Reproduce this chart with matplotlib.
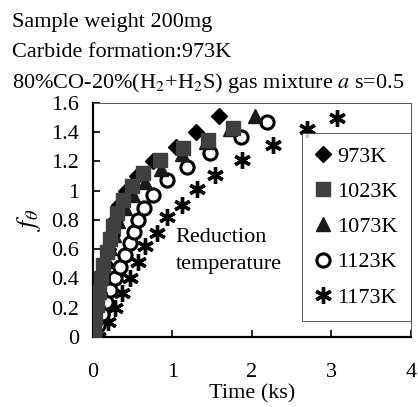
import matplotlib
matplotlib.use("Agg")
import matplotlib.pyplot as plt

plt.rcParams['font.family'] = ['Liberation Serif', 'DejaVu Serif']
plt.rcParams['mathtext.fontset'] = 'stix'

# Data (time in ks, f_theta)
t_973 = [0.0, 0.02, 0.05, 0.08, 0.11, 0.15, 0.19, 0.24, 0.28, 0.33, 0.42, 0.55, 0.76, 1.04, 1.29, 1.58]
f_973 = [0.02, 0.1, 0.2, 0.3, 0.4, 0.5, 0.6, 0.7, 0.8, 0.9, 1.0, 1.1, 1.2, 1.3, 1.4, 1.51]

t_1023 = [0.01, 0.03, 0.05, 0.07, 0.10, 0.13, 0.17, 0.21, 0.25, 0.30, 0.38, 0.49, 0.63, 0.84, 1.13, 1.45, 1.76]
f_1023 = [0.04, 0.13, 0.22, 0.31, 0.40, 0.49, 0.58, 0.67, 0.76, 0.85, 0.94, 1.03, 1.12, 1.21, 1.29, 1.35, 1.43]

t_1073 = [0.02, 0.04, 0.06, 0.09, 0.13, 0.17, 0.21, 0.26, 0.32, 0.40, 0.50, 0.65, 0.85, 1.12, 1.42, 1.72, 2.04]
f_1073 = [0.07, 0.16, 0.25, 0.34, 0.43, 0.52, 0.61, 0.70, 0.79, 0.88, 0.97, 1.06, 1.15, 1.25, 1.33, 1.42, 1.51]

t_1123 = [0.02, 0.06, 0.11, 0.16, 0.22, 0.28, 0.34, 0.40, 0.46, 0.51, 0.57, 0.64, 0.75, 0.93, 1.18, 1.47, 1.86, 2.19]
f_1123 = [0.0, 0.08, 0.16, 0.24, 0.32, 0.40, 0.48, 0.56, 0.64, 0.72, 0.80, 0.88, 0.97, 1.07, 1.16, 1.26, 1.37, 1.47]

t_1173 = [0.06, 0.19, 0.28, 0.36, 0.47, 0.56, 0.66, 0.80, 0.93, 1.12, 1.31, 1.53, 1.87, 2.27, 2.69, 3.07]
f_1173 = [0.0, 0.10, 0.20, 0.30, 0.40, 0.51, 0.62, 0.71, 0.82, 0.90, 1.01, 1.11, 1.21, 1.31, 1.42, 1.50]

labels = ['973K', '1023K', '1073K', '1123K', '1173K']
x_ticks = [0, 1, 2, 3, 4]
y_ticks = [0, 0.2, 0.4, 0.6, 0.8, 1, 1.2, 1.4, 1.6]
y_ticklabels = ['0', '0.2', '0.4', '0.6', '0.8', '1', '1.2', '1.4', '1.6']

FS = 16

fig = plt.figure(figsize=(4.18, 4.07), dpi=100)
ax = fig.add_axes([0.2225, 0.172, 0.7605, 0.575])

h5 = ax.plot(t_1173, f_1173, ls='none', marker=(6, 2, 0), ms=12, mew=2.4, color='black', label=labels[4], zorder=2)[0]
h4 = ax.plot(t_1123, f_1123, ls='none', marker='o', ms=9.5, mew=2.2, mfc='white', mec='black', label=labels[3], zorder=3)[0]
h3 = ax.plot(t_1073, f_1073, ls='none', marker='^', ms=10, color='#1a1a1a', label=labels[2], zorder=4)[0]
h1 = ax.plot(t_973, f_973, ls='none', marker='D', ms=8.5, color='black', label=labels[0], zorder=5)[0]
h2 = ax.plot(t_1023, f_1023, ls='none', marker='s', ms=9.5, color='#404040', label=labels[1], zorder=6)[0]

ax.set_xlim(0, 4)
ax.set_ylim(0, 1.6)
ax.set_xticks(x_ticks)
ax.set_yticks(y_ticks)
ax.set_yticklabels(y_ticklabels)
ax.tick_params(direction='in', length=5, width=1.2, labelsize=FS)
ax.tick_params(axis='x', pad=19)
ax.tick_params(axis='y', pad=10)
for s in ['left', 'bottom']:
    ax.spines[s].set_linewidth(1.6)
for s in ['top', 'right']:
    ax.spines[s].set_linewidth(0.7)
    ax.spines[s].set_color('#555555')

ax.set_xlabel('Time (ks)', fontsize=FS, labelpad=1)
ax.set_ylabel(r'$f_\theta$', fontsize=19, labelpad=6)

ax.text(0.26, 0.367, 'Reduction\ntemperature', transform=ax.transAxes,
        fontsize=FS, linespacing=1.55, va='center', ha='left')

leg = ax.legend(handles=[h1, h2, h3, h4, h5], loc='upper right',
                bbox_to_anchor=(1.0, 0.872), fontsize=FS, frameon=True,
                fancybox=False, edgecolor='#333333', handlelength=0.7,
                handletextpad=0.3, labelspacing=0.66, borderpad=0.6,
                borderaxespad=0)
leg.get_frame().set_linewidth(0.7)

fig.text(0.029, 0.944, 'Sample weight 200mg', fontsize=FS, va='center')
fig.text(0.029, 0.870, 'Carbide formation:973K', fontsize=FS, va='center')
fig.text(0.029, 0.796, r'80%CO-20%(H$_2$+H$_2$S) gas mixture $\mathit{a}$ s=0.5', fontsize=FS, va='center')

fig.savefig('out.png', dpi=100)
